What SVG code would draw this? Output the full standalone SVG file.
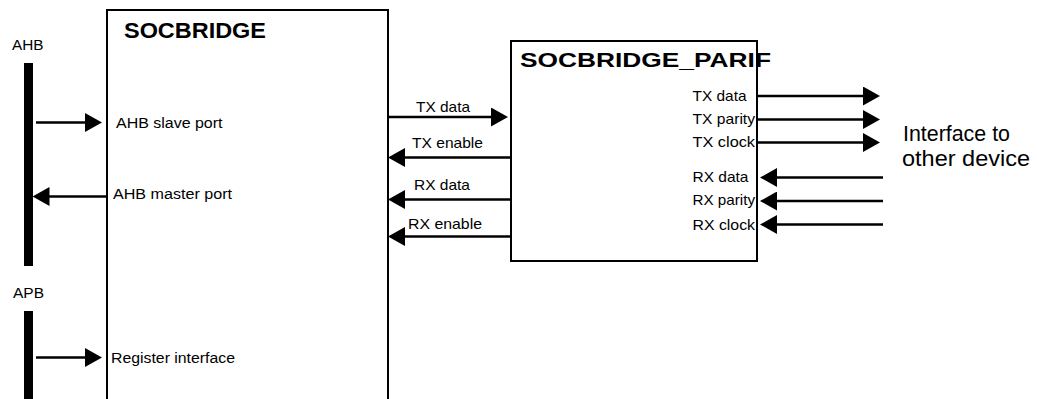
<svg xmlns="http://www.w3.org/2000/svg" width="1037" height="399" viewBox="0 0 1037 399">
<defs>
<style>
.t{font-family:"Liberation Sans",Arial,sans-serif;fill:#000}
.b{font-weight:bold}
.box{fill:#fff;stroke:#000;stroke-width:2}
.bar{fill:#000}
.w{stroke:#000;stroke-width:2.5;fill:none}
</style>
<marker id="ah" viewBox="0 0 17 19" refX="12" refY="9.5" markerWidth="17" markerHeight="19" orient="auto" markerUnits="userSpaceOnUse"><path d="M0,0 L17,9.5 L0,19 Z" fill="#000"/></marker>
</defs>
<rect width="1037" height="399" fill="#fff"/>
<g id="ahb-bus">
<rect class="bar" x="24" y="63" width="9" height="203"/>
<text class="t" x="12" y="50" font-size="14.5" textLength="31.5" lengthAdjust="spacingAndGlyphs">AHB</text>
</g>
<g id="apb-bus">
<rect class="bar" x="24" y="311" width="9" height="95"/>
<text class="t" x="13" y="298" font-size="14.5" textLength="31" lengthAdjust="spacingAndGlyphs">APB</text>
</g>
<g id="socbridge">
<rect class="box" x="107" y="10" width="281" height="400"/>
<text class="t b" x="124" y="37.7" font-size="21.5" textLength="142" lengthAdjust="spacingAndGlyphs">SOCBRIDGE</text>
<text class="t" x="116" y="128.3" font-size="15.5" textLength="106.5" lengthAdjust="spacingAndGlyphs">AHB slave port</text>
<text class="t" x="113" y="199" font-size="15.5" textLength="119" lengthAdjust="spacingAndGlyphs">AHB master port</text>
<text class="t" x="111" y="363" font-size="15.5" textLength="124" lengthAdjust="spacingAndGlyphs">Register interface</text>
</g>
<g id="socbridge-parif">
<rect class="box" x="511" y="41" width="246" height="220"/>
<text class="t b" x="520" y="66.7" font-size="21" textLength="251" lengthAdjust="spacingAndGlyphs">SOCBRIDGE_PARIF</text>
<text class="t" x="692.5" y="100.7" font-size="14.5" textLength="54" lengthAdjust="spacingAndGlyphs">TX data</text>
<text class="t" x="692.5" y="123.5" font-size="14.5" textLength="62.5" lengthAdjust="spacingAndGlyphs">TX parity</text>
<text class="t" x="692.5" y="146.7" font-size="14.5" textLength="62.5" lengthAdjust="spacingAndGlyphs">TX clock</text>
<text class="t" x="692.5" y="181.7" font-size="14.5" textLength="56" lengthAdjust="spacingAndGlyphs">RX data</text>
<text class="t" x="692.5" y="205" font-size="14.5" textLength="62.5" lengthAdjust="spacingAndGlyphs">RX parity</text>
<text class="t" x="692.5" y="229.5" font-size="14.5" textLength="62.5" lengthAdjust="spacingAndGlyphs">RX clock</text>
</g>
<g id="external">
<text class="t" x="903" y="141" font-size="21.5" textLength="107" lengthAdjust="spacingAndGlyphs">Interface to</text>
<text class="t" x="902" y="166" font-size="21.5" textLength="128" lengthAdjust="spacingAndGlyphs">other device</text>
</g>
<g id="connectors">
<line class="w" x1="36" y1="122.5" x2="97" y2="122.5" marker-end="url(#ah)"/>
<line class="w" x1="107" y1="196.5" x2="37.5" y2="196.5" stroke-width="2" marker-end="url(#ah)"/>
<line class="w" x1="36" y1="357.5" x2="97" y2="357.5" marker-end="url(#ah)"/>
<line class="w" x1="388" y1="117" x2="503" y2="117" marker-end="url(#ah)"/>
<text class="t" x="416" y="111.5" font-size="14.5" textLength="54" lengthAdjust="spacingAndGlyphs">TX data</text>
<line class="w" x1="511" y1="157.5" x2="393" y2="157.5" marker-end="url(#ah)"/>
<text class="t" x="412" y="147.5" font-size="14.5" textLength="71" lengthAdjust="spacingAndGlyphs">TX enable</text>
<line class="w" x1="511" y1="199.5" x2="393" y2="199.5" marker-end="url(#ah)"/>
<text class="t" x="414" y="189.5" font-size="14.5" textLength="56" lengthAdjust="spacingAndGlyphs">RX data</text>
<line class="w" x1="511" y1="236.5" x2="393" y2="236.5" marker-end="url(#ah)"/>
<text class="t" x="408" y="229" font-size="14.5" textLength="74" lengthAdjust="spacingAndGlyphs">RX enable</text>
<line class="w" x1="757" y1="96" x2="875" y2="96" marker-end="url(#ah)"/>
<line class="w" x1="757" y1="119.5" x2="875" y2="119.5" marker-end="url(#ah)"/>
<line class="w" x1="757" y1="142.5" x2="875" y2="142.5" marker-end="url(#ah)"/>
<line class="w" x1="883" y1="177.5" x2="765" y2="177.5" marker-end="url(#ah)"/>
<line class="w" x1="883" y1="201" x2="765" y2="201" marker-end="url(#ah)"/>
<line class="w" x1="883" y1="224.5" x2="765" y2="224.5" marker-end="url(#ah)"/>
</g>
</svg>
